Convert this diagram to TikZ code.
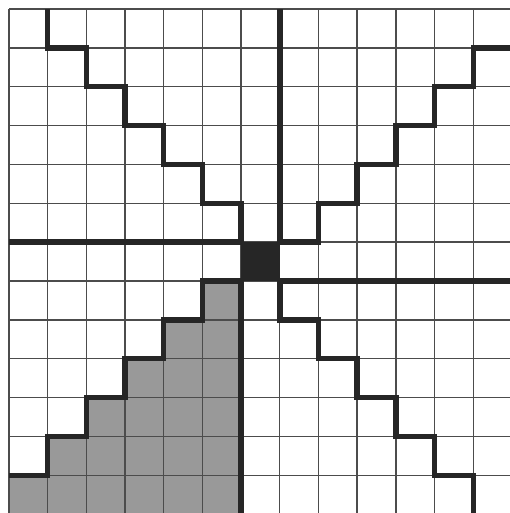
\documentclass[tikz,border=0pt]{standalone}
\usetikzlibrary{calc}
\begin{document}
\begin{tikzpicture}[x=1cm,y=-1.0045cm,
  gridline/.style={draw=black!70,line width=1pt},
  wall/.style={draw=black!85,line width=4pt,line join=miter},
  shade/.style={fill=black!40}]
\useasboundingbox (-0.233,-0.232) rectangle (12.95,12.97);
\clip (-0.233,-0.232) rectangle (12.95,12.97);
% shaded quarter, lower left
\fill[shade] (6,7) -- (5,7) -- (5,8) -- (4,8) -- (4,9) -- (3,9) -- (3,10) -- (2,10)
  -- (2,11) -- (1,11) -- (1,12) -- (0,12) -- (0,13.5) -- (6,13.5) -- cycle;
% grid
\foreach \k in {0,...,13} {
  \draw[gridline] (\k,0) -- (\k,13.5);
  \draw[gridline] (0,\k) -- (13.5,\k);
}
% centre cell
\fill[black!85] (6,6) rectangle (7,7);
% straight walls
\draw[wall] (7,0) -- (7,6);
\draw[wall] (0,6) -- (6,6);
\draw[wall] (7,7) -- (13.5,7);
\draw[wall] (6,7) -- (6,13.5);
% staircases
\draw[wall] (1,0) -- (1,1) -- (2,1) -- (2,2) -- (3,2) -- (3,3) -- (4,3) -- (4,4)
  -- (5,4) -- (5,5) -- (6,5) -- (6,6);
\draw[wall] (7,6) -- (8,6) -- (8,5) -- (9,5) -- (9,4) -- (10,4) -- (10,3) -- (11,3)
  -- (11,2) -- (12,2) -- (12,1) -- (13.5,1);
\draw[wall] (7,7) -- (7,8) -- (8,8) -- (8,9) -- (9,9) -- (9,10) -- (10,10) -- (10,11)
  -- (11,11) -- (11,12) -- (12,12) -- (12,13.5);
\draw[wall] (6,7) -- (5,7) -- (5,8) -- (4,8) -- (4,9) -- (3,9) -- (3,10) -- (2,10)
  -- (2,11) -- (1,11) -- (1,12) -- (0,12);
\end{tikzpicture}
\end{document}
